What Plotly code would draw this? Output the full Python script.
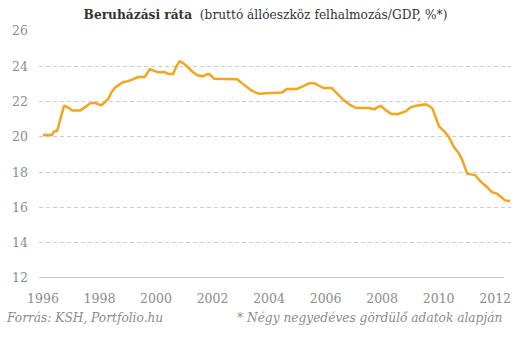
import plotly.graph_objects as go

years = [1996.00, 1996.32, 1996.39, 1996.50, 1996.56, 1996.62, 1996.68, 1996.74, 1996.77, 1996.91,
         1997.03, 1997.32, 1997.50, 1997.67, 1997.85, 1997.96, 1998.08, 1998.20, 1998.32, 1998.43,
         1998.55, 1998.73, 1998.84, 1999.02, 1999.19, 1999.37, 1999.60, 1999.78, 1999.89, 2000.07,
         2000.31, 2000.42, 2000.60, 2000.71, 2000.83, 2000.95, 2001.12, 2001.30, 2001.47, 2001.65,
         2001.82, 2001.88, 2002.06, 2002.88, 2002.99, 2003.23, 2003.40, 2003.64, 2003.99, 2004.05,
         2004.46, 2004.63, 2004.98, 2005.10, 2005.27, 2005.45, 2005.62, 2005.80, 2005.92, 2006.21,
         2006.39, 2006.62, 2006.85, 2007.09, 2007.55, 2007.73, 2007.85, 2007.96, 2008.14, 2008.32,
         2008.55, 2008.67, 2008.84, 2009.02, 2009.25, 2009.54, 2009.66, 2009.78, 2009.89, 2010.01,
         2010.19, 2010.36, 2010.54, 2010.71, 2010.83, 2010.95, 2011.01, 2011.18, 2011.30, 2011.47,
         2011.71, 2011.88, 2012.06, 2012.24, 2012.35, 2012.53]
rate = [20.10, 20.10, 20.30, 20.35, 20.65, 21.05, 21.40, 21.73, 21.75, 21.65,
        21.50, 21.50, 21.70, 21.90, 21.93, 21.83, 21.80, 21.97, 22.17, 22.54,
        22.79, 23.00, 23.10, 23.16, 23.28, 23.39, 23.39, 23.83, 23.77, 23.66,
        23.66, 23.58, 23.55, 23.96, 24.28, 24.20, 23.96, 23.68, 23.49, 23.43,
        23.56, 23.56, 23.30, 23.26, 23.10, 22.82, 22.60, 22.45, 22.45, 22.49,
        22.52, 22.71, 22.71, 22.79, 22.94, 23.05, 23.03, 22.86, 22.77, 22.77,
        22.49, 22.11, 21.83, 21.63, 21.63, 21.56, 21.69, 21.75, 21.50, 21.31,
        21.28, 21.35, 21.46, 21.69, 21.78, 21.84, 21.75, 21.60, 21.10, 20.60,
        20.33, 19.99, 19.42, 19.08, 18.71, 18.20, 17.91, 17.86, 17.82, 17.49,
        17.16, 16.87, 16.78, 16.55, 16.40, 16.37]

x_ticks = [1996, 1998, 2000, 2002, 2004, 2006, 2008, 2010, 2012]
y_ticks = [12, 14, 16, 18, 20, 22, 24, 26]

title_text = "<b>Beruházási ráta</b>  (bruttó állóeszköz felhalmozás/GDP, %*)"
source_text = "<i>Forrás: KSH, Portfolio.hu</i>"
note_text = "<i>* Négy negyedéves gördülő adatok alapján</i>"

font_family = "DejaVu Serif"
grey = "#8c8c8c"

fig = go.Figure()
fig.add_trace(go.Scatter(
    x=years, y=rate, mode="lines",
    line=dict(color="#F5A41C", width=2.5),
    hoverinfo="skip", showlegend=False,
))

fig.update_layout(
    width=531, height=342,
    margin=dict(l=35, r=20, t=31, b=64),
    paper_bgcolor="white", plot_bgcolor="white",
    font=dict(family=font_family, size=12, color=grey),
    title=dict(text=title_text, x=0.5, xanchor="center", y=1 - 15 / 342, yanchor="middle",
               font=dict(family=font_family, size=12.2, color="#333333")),
    xaxis=dict(
        range=[1995.86, 2012.56], tickvals=x_ticks, ticktext=[str(t) for t in x_ticks],
        showgrid=False, zeroline=False, showline=False, ticks="", ticklabelstandoff=11,
        tickfont=dict(family=font_family, size=12.5, color=grey),
    ),
    yaxis=dict(
        range=[12, 26], tickvals=y_ticks, ticktext=[str(t) for t in y_ticks],
        showgrid=True, gridcolor="#cccccc", griddash="4px,3px", gridwidth=1,
        zeroline=False, showline=False, ticks="", ticklabelstandoff=10,
        tickfont=dict(family=font_family, size=12.5, color=grey),
    ),
    shapes=[dict(type="line", xref="paper", yref="y", x0=0, x1=0.985, y0=12, y1=12,
                 line=dict(color="#999999", width=1))],
    annotations=[
        dict(text=source_text, xref="paper", yref="paper", x=-35 / 476, y=-(318 - 278) / 247,
             xanchor="left", yanchor="middle", showarrow=False,
             font=dict(family=font_family, size=12.2, color=grey)),
        dict(text=note_text, xref="paper", yref="paper", x=(504 - 35) / 476, y=-(318 - 278) / 247,
             xanchor="right", yanchor="middle", showarrow=False,
             font=dict(family=font_family, size=12.2, color=grey)),
    ],
)

fig.write_html("out.html")
